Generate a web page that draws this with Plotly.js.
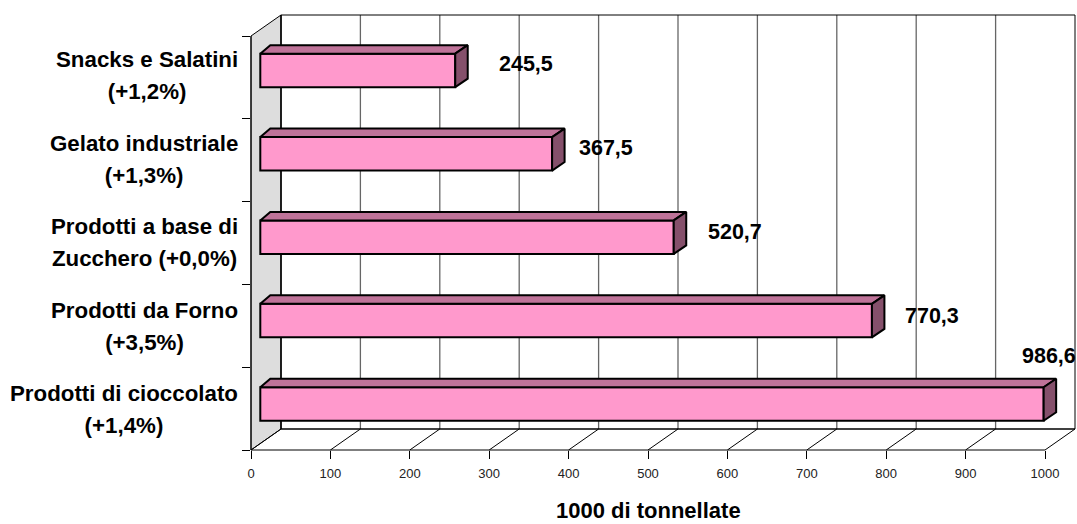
<!DOCTYPE html>
<html>
<head>
<meta charset="utf-8">
<script src="https://cdn.plot.ly/plotly-3.0.1.min.js"></script>
<style>
html, body { margin: 0; padding: 0; background: #fff; }
#chart { width: 1077px; height: 524px; }
</style>
</head>
<body>
<div id="chart"></div>
<script>
// Bottom-to-top order of the categories on the value axis
const categories = ["Prodotti di cioccolato", "Prodotti da Forno", "Prodotti a base di<br>Zucchero", "Gelato industriale", "Snacks e Salatini"];
const changes = ["+1,4%", "+3,5%", "+0,0%", "+1,3%", "+1,2%"];
const values = [986.6, 770.3, 520.7, 367.5, 245.5];
const xTicks = [0, 100, 200, 300, 400, 500, 600, 700, 800, 900, 1000];
// Offsets of the value labels from the bar end, in pixels
const labelDx = [-24, 31, 32, 24.5, 41.5];
const labelLift = [48, 5, 5, 6, 6];

const W = 1077, H = 524;
const plot = { left: 251, right: 1075, top: 36, bottom: 450 };
const frontWidth = 794;                 // pixels spanned by 0..1000 on the front edge
const pxX = frontWidth / 1000;
const pxY = (plot.bottom - plot.top) / categories.length;
const toX = px => px / pxX;             // pixel length -> x units
const toY = px => px / pxY;             // pixel length -> y units
const xMax = (plot.right - plot.left) / pxX;
const paperX = v => v / xMax;
const paperY = v => v / categories.length;
const nCat = categories.length;

// Depth of the box the chart stands in
const boxDx = toX(30), boxDy = toY(21);
// Bars stand a little inside the box
const barDx = toX(9.3);
const barWidth = toY(33.5);
const barPitch = toY(83.4), firstBar = toY(46);
const sideDx = toX(12.5), topLeftDx = toX(10), faceDy = toY(8.5);

const pink = "#FF99CC", pinkTop = "#BF7399", pinkSide = "#85506B";
const black = "#000000";
const sans = "Liberation Sans";

const shapes = [];
const segment = (x0, y0, x1, y1, color, width) => shapes.push({
  type: "line", xref: "paper", yref: "paper", layer: "below",
  x0: paperX(x0), y0: paperY(y0), x1: paperX(x1), y1: paperY(y1),
  line: { color: color, width: width }
});

// Left wall
shapes.push({
  type: "path", xref: "paper", yref: "paper", layer: "below",
  path: `M${paperX(0)},${paperY(0)} L${paperX(boxDx)},${paperY(boxDy)} L${paperX(boxDx)},${paperY(nCat + boxDy)} L${paperX(0)},${paperY(nCat)} Z`,
  fillcolor: "#DDDDDD", line: { color: black, width: 1 }
});
// Back wall gridlines and floor lines
xTicks.forEach(t => {
  if (t > 0 && t < 1000) segment(t + boxDx, boxDy, t + boxDx, nCat + boxDy, "#666666", 1.3);
  segment(t, 0, t + boxDx, boxDy, black, 1);
});
// Back wall and floor outline
segment(boxDx, nCat + boxDy, 1000 + boxDx, nCat + boxDy, black, 1);
segment(1000 + boxDx, nCat + boxDy, 1000 + boxDx, boxDy, black, 1);
segment(boxDx, boxDy, 1000 + boxDx, boxDy, black, 1.5);
segment(boxDx, boxDy, boxDx, nCat + boxDy, black, 1.5);
// Front edges of the floor and of the left wall
segment(0, 0, 1000, 0, black, 1);
segment(0, 0, 0, nCat, black, 1);

const yCenter = categories.map((_, i) => firstBar + i * barPitch);

// Front faces of the bars
const front = {
  type: "bar", orientation: "h",
  x: values, y: yCenter,
  base: values.map(() => barDx),
  width: barWidth,
  cliponaxis: false,
  marker: { color: pink, line: { color: black, width: 2 } },
  hoverinfo: "skip", showlegend: false
};

// Top and side faces of the bars
const tops = {
  type: "scatter", mode: "lines", fill: "toself", fillcolor: pinkTop,
  line: { color: black, width: 2 }, cliponaxis: false, hoverinfo: "skip", showlegend: false,
  x: [], y: []
};
const sides = Object.assign({}, tops, { fillcolor: pinkSide, x: [], y: [] });
values.forEach((v, i) => {
  const xl = barDx, xr = barDx + v;
  const yt = yCenter[i] + barWidth / 2, yb = yCenter[i] - barWidth / 2;
  tops.x.push(xl, xl + topLeftDx, xr + sideDx, xr, xl, null);
  tops.y.push(yt, yt + faceDy, yt + faceDy, yt, yt, null);
  sides.x.push(xr, xr + sideDx, xr + sideDx, xr, xr, null);
  sides.y.push(yt, yt + faceDy, yb + faceDy, yb, yt, null);
});

const annotations = [];
categories.forEach((c, i) => {
  const lines = c.includes("<br>") ? `${c} (${changes[i]})` : `${c}<br>(${changes[i]})`;
  const inner = lines.split("<br>").map(l => `<span style="font-size:22.3px">${l}</span>`).join("<br>");
  annotations.push({
    xref: "x", yref: "y", x: 0, y: yCenter[i], xanchor: "right", yanchor: "middle",
    xshift: -11, yshift: -5.5, showarrow: false, align: "center", text: inner,
    font: { family: sans, size: 24.6, color: black, weight: 700 }
  });
  annotations.push({
    xref: "x", yref: "y", x: barDx + values[i], y: yCenter[i],
    xanchor: "left", yanchor: "middle", xshift: labelDx[i], yshift: labelLift[i],
    showarrow: false, text: values[i].toFixed(1).replace(".", ","),
    font: { family: sans, size: 21.5, color: black, weight: 700 }
  });
});
// Value axis title, centred under the 0..1000 span
annotations.push({
  xref: "x", yref: "paper", x: 500, y: paperY(0), xanchor: "center", yanchor: "middle",
  yshift: -60, showarrow: false, borderpad: 0, text: "1000 di tonnellate",
  font: { family: sans, size: 22, color: black, weight: 700 }
});

const layout = {
  width: W, height: H,
  margin: { l: plot.left, r: W - plot.right, t: plot.top, b: H - plot.bottom, pad: 0 },
  paper_bgcolor: "#fff", plot_bgcolor: "rgba(0,0,0,0)",
  barmode: "overlay", showlegend: false, shapes: shapes, annotations: annotations,
  xaxis: {
    range: [0, xMax], tickmode: "array", tickvals: xTicks, ticktext: xTicks.map(String),
    ticks: "outside", ticklen: 8, tickcolor: black, tickwidth: 1, ticklabelstandoff: 3,
    showgrid: false, zeroline: false, showline: false,
    tickfont: { family: sans, size: 13, color: "#222" }
  },
  yaxis: {
    range: [0, nCat], tickmode: "array", tickvals: [0, 1, 2, 3, 4, 5], showticklabels: false,
    ticks: "outside", ticklen: 8, tickcolor: black, tickwidth: 1,
    showgrid: false, zeroline: false, showline: false
  }
};

Plotly.newPlot("chart", [front, tops, sides], layout, { displayModeBar: false, staticPlot: true });
</script>
</body>
</html>
